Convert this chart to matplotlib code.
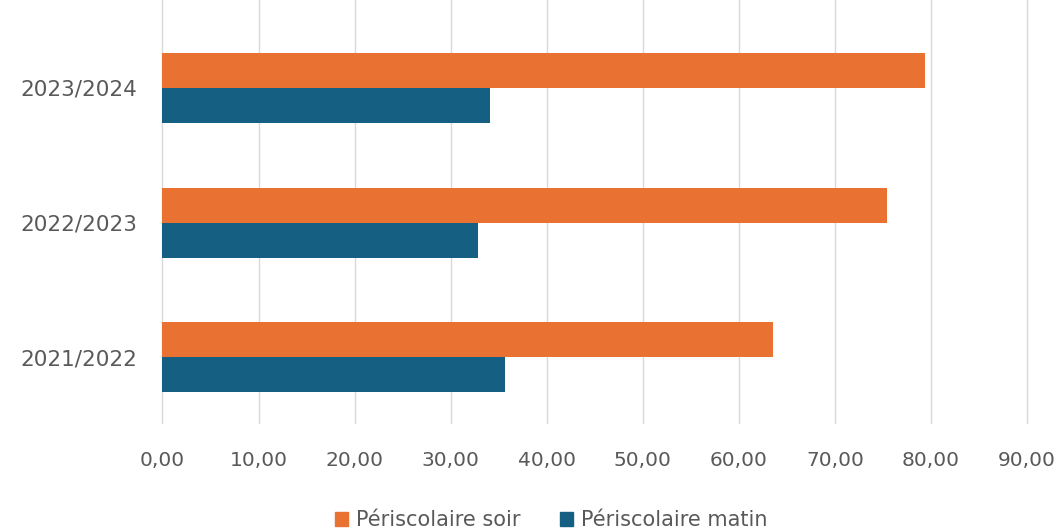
import matplotlib
matplotlib.use("Agg")
import matplotlib.pyplot as plt
from matplotlib.patches import Patch
import numpy as np

# school years, bottom to top as drawn
years = ["2021/2022", "2022/2023", "2023/2024"]
soir = [63.6, 75.4, 79.4]    # Périscolaire soir
matin = [35.7, 32.8, 34.1]   # Périscolaire matin
xticks = [0, 10, 20, 30, 40, 50, 60, 70, 80, 90]

ORANGE = "#E97132"
BLUE = "#156082"
TEXT = "#595959"
GRID = "#D9D9D9"

plt.rcParams["font.family"] = ["DejaVu Sans"]

fig = plt.figure(figsize=(10.6, 5.31), dpi=100)
ax = fig.add_axes([0.1533, 0.2034, 0.8156, 0.7966])

y = np.arange(len(years))
h = 0.26
ax.barh(y + h / 2, soir, height=h, color=ORANGE, zorder=3)
ax.barh(y - h / 2, matin, height=h, color=BLUE, zorder=3)

ax.set_xlim(0, 90)
ax.set_ylim(-0.49, 2.654)
ax.set_xticks(xticks)
ax.set_xticklabels([f"{v:.2f}".replace(".", ",") for v in xticks])
ax.set_yticks(y)
ax.set_yticklabels(years)

ax.grid(axis="x", color=GRID, linewidth=1.0, zorder=0)
for g in ax.get_xgridlines():
    g.set_clip_on(False)
for s in ax.spines.values():
    s.set_visible(False)
ax.tick_params(axis="x", length=0, pad=20, labelsize=14.5, labelcolor=TEXT)
ax.tick_params(axis="y", length=0, pad=18, labelsize=15.5, labelcolor=TEXT)

handles = [Patch(color=ORANGE, label="Périscolaire soir"),
           Patch(color=BLUE, label="Périscolaire matin")]
fig.legend(handles=handles, loc="center", bbox_to_anchor=(0.52, 0.02),
           ncol=2, frameon=False, fontsize=15, labelcolor=TEXT,
           handlelength=0.62, handleheight=0.62, handletextpad=0.4,
           columnspacing=1.9)

fig.savefig("out.png", dpi=100)
